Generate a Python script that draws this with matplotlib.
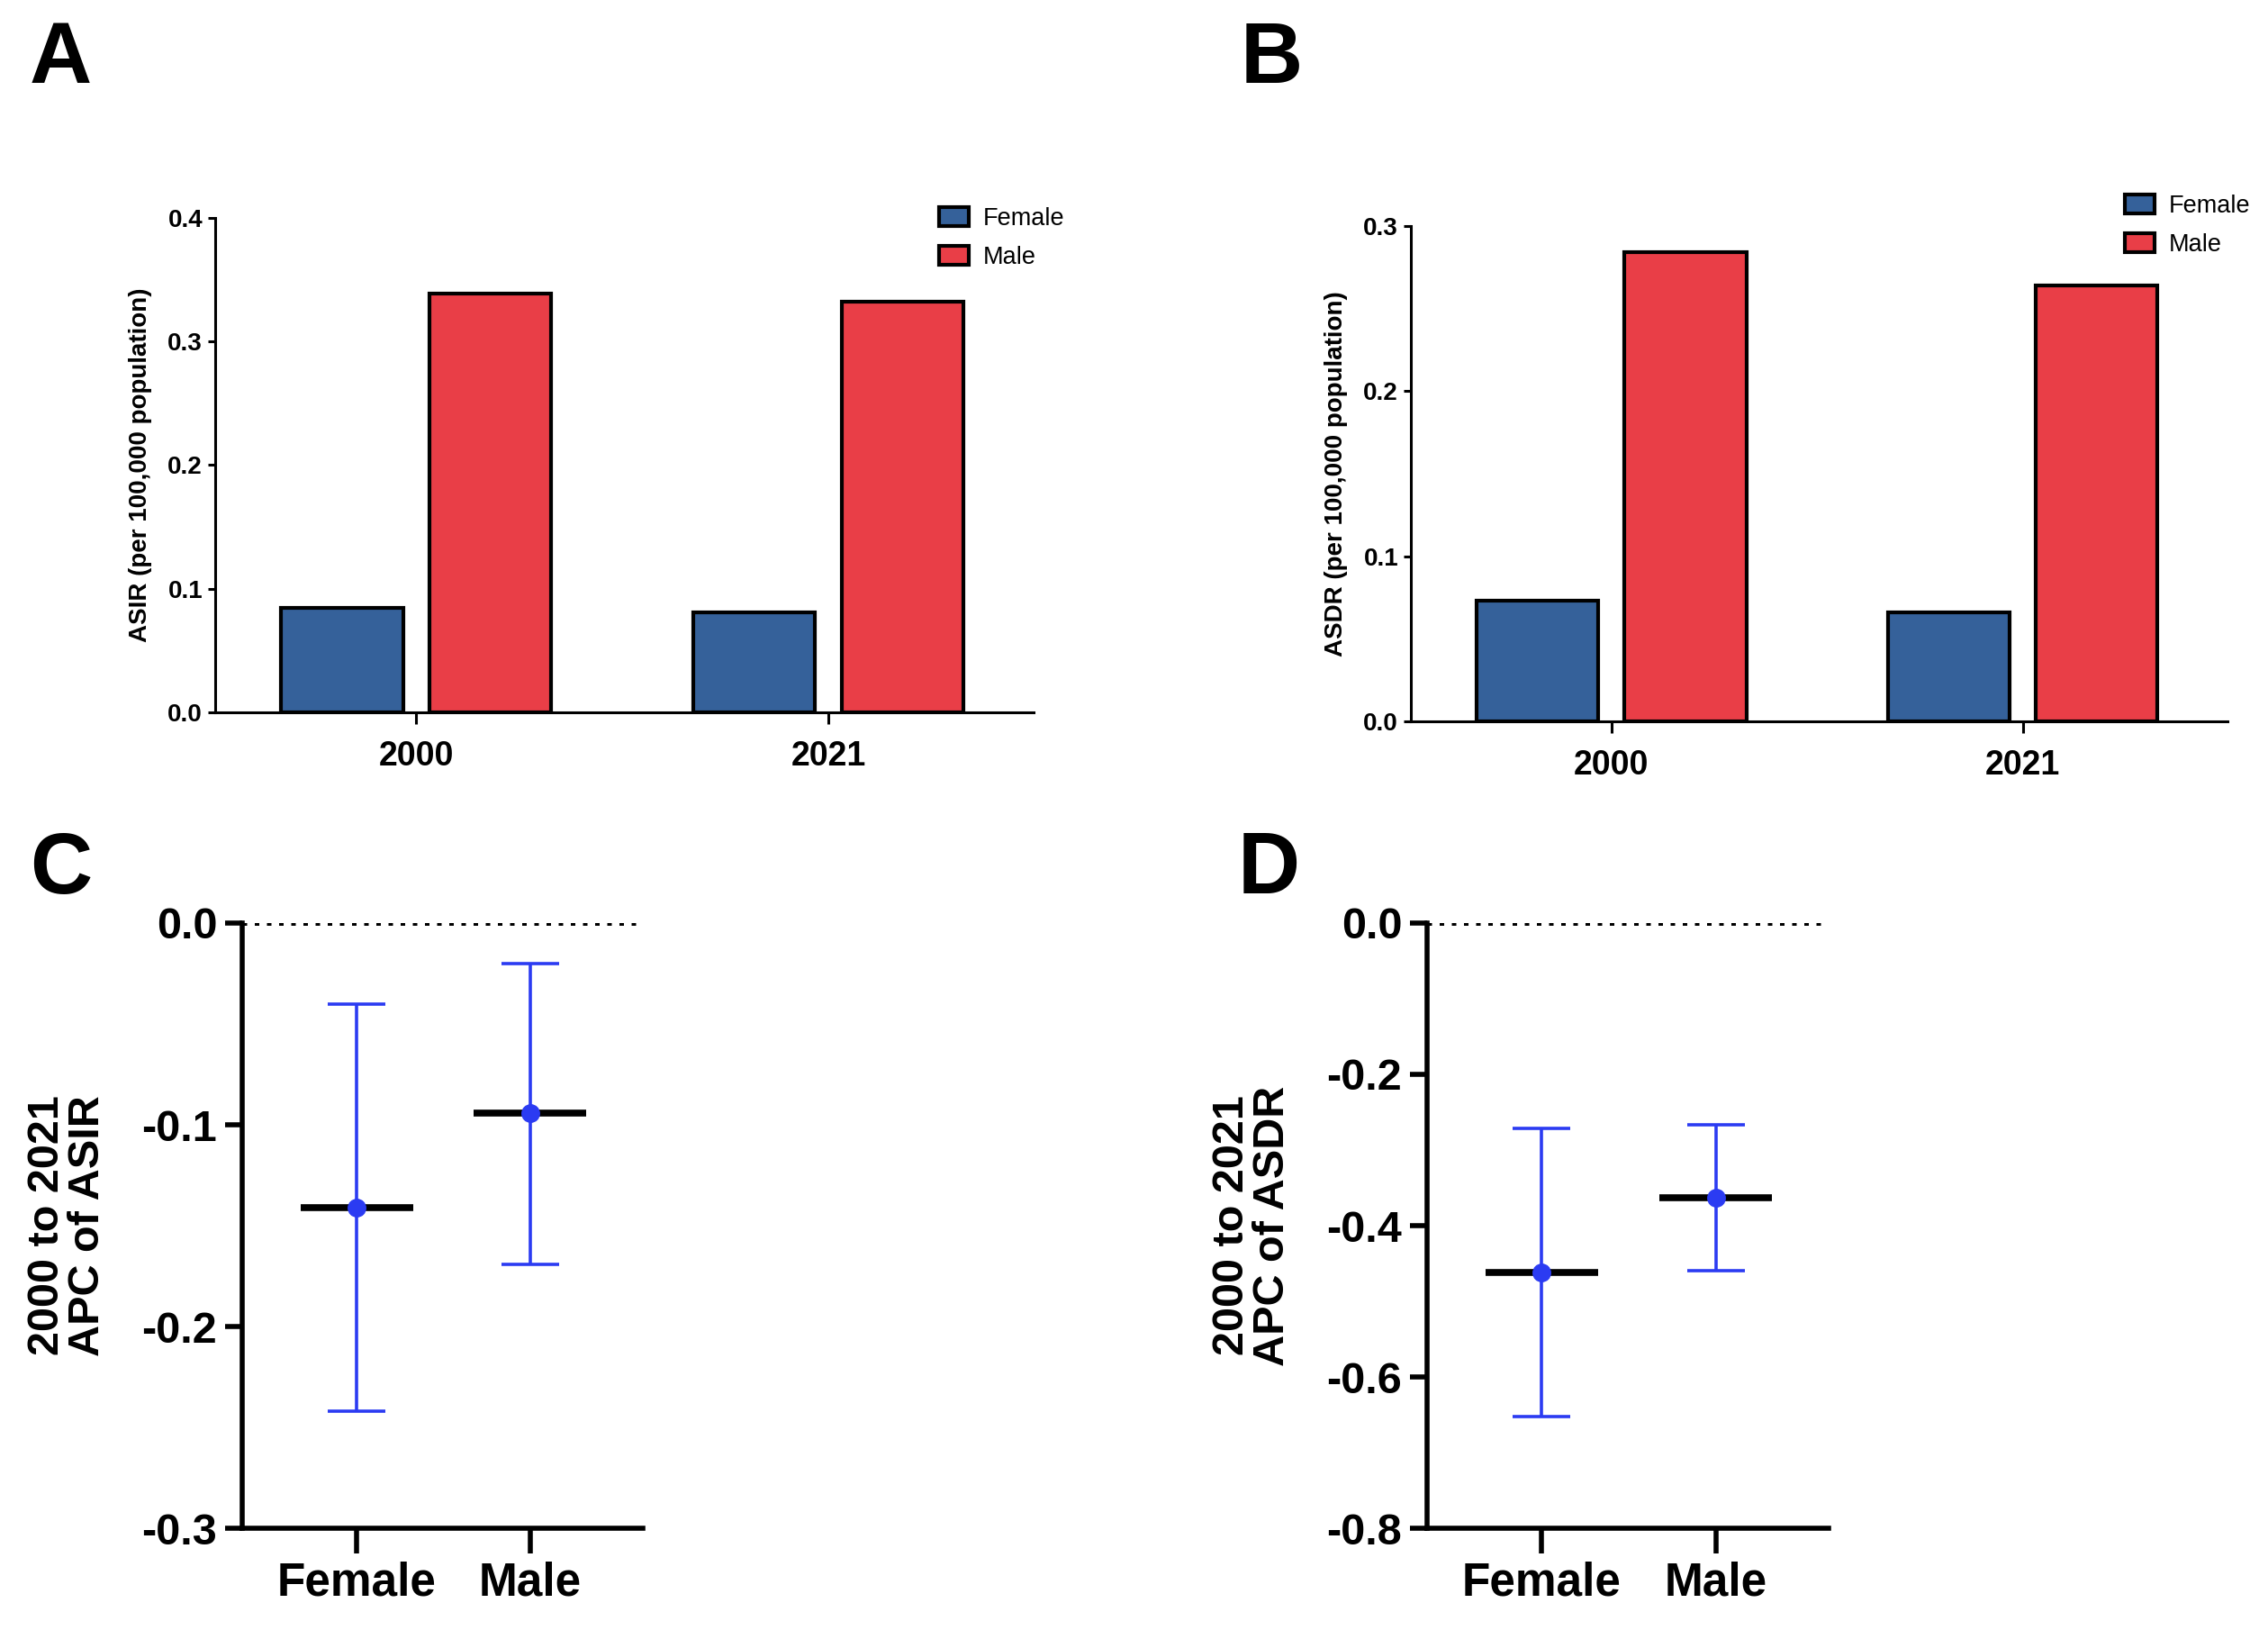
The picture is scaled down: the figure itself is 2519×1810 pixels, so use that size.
import matplotlib
matplotlib.use("Agg")
import matplotlib.pyplot as plt
import numpy as np

plt.rcParams['font.family'] = ['Liberation Sans', 'DejaVu Sans']

# Panels A/B: age-standardised rates
years = ['2000', '2021']
sexes = ['Female', 'Male']
asir_female = [0.0845, 0.081]
asir_male = [0.339, 0.332]
asdr_female = [0.073, 0.066]
asdr_male = [0.284, 0.264]

# Panels C/D: APC with 95% CI
apc_asir = [-0.141, -0.094]
apc_asir_lo = [-0.242, -0.169]
apc_asir_hi = [-0.040, -0.020]
apc_asdr = [-0.462, -0.363]
apc_asdr_lo = [-0.652, -0.459]
apc_asdr_hi = [-0.271, -0.267]

blue = '#35619A'
red = '#E93E47'
dot_blue = '#2B3BF2'

W, H = 2519, 1810
fig = plt.figure(figsize=(W / 100, H / 100), dpi=100)


def ax_px(left, top, right, bottom):
    return fig.add_axes([left / W, 1 - bottom / H, (right - left) / W, (bottom - top) / H])


def bar_panel(ax, fem, mal, ylim, yticks, ylabel, leg_xy):
    x = np.arange(len(years))
    w = 0.296
    ax.bar(x - 0.18, fem, w, color=blue, edgecolor='black', linewidth=3, label='Female')
    ax.bar(x + 0.18, mal, w, color=red, edgecolor='black', linewidth=3, label='Male')
    ax.set_xlim(-0.488, 1.498)
    ax.set_ylim(*ylim)
    ax.set_yticks(yticks)
    ax.set_yticklabels([f'{t:.1f}' for t in yticks], fontsize=20, fontweight='bold')
    ax.set_xticks(x)
    ax.set_xticklabels(years, fontsize=27, fontweight='bold')
    ax.tick_params(axis='y', length=6, width=2.2, pad=4)
    ax.tick_params(axis='x', length=9, width=2.2, pad=13)
    for s in ['top', 'right']:
        ax.spines[s].set_visible(False)
    for s in ['left', 'bottom']:
        ax.spines[s].set_linewidth(2.2)
    ax.set_ylabel(ylabel, fontsize=20, fontweight='bold')
    ax.yaxis.set_label_coords(-0.077, 0.5)
    ax.legend(loc='upper left', bbox_to_anchor=(leg_xy[0] / W, 1 - leg_xy[1] / H),
              bbox_transform=fig.transFigure, frameon=False, fontsize=19.5,
              handlelength=1.2, handleheight=0.8, handletextpad=0.6,
              labelspacing=0.62, borderpad=0, borderaxespad=0)


def apc_panel(ax, mean, lo, hi, ylim, yticks, ylabel):
    x = np.arange(len(sexes))
    mean = np.array(mean)
    yerr = [mean - np.array(lo), np.array(hi) - mean]
    ax.axhline(0, color='black', linestyle=(0, (1, 1.7)), linewidth=3.6, zorder=1)
    ax.errorbar(x, mean, yerr=yerr, fmt='none', ecolor=dot_blue, elinewidth=2.6,
                capsize=23, capthick=2.6, zorder=2)
    ax.hlines(mean, x - 0.325, x + 0.325, color='black', linewidth=5.5, zorder=3)
    ax.plot(x, mean, 'o', color=dot_blue, markersize=14, zorder=4)
    ax.set_xlim(-0.66, 1.65)
    ax.set_ylim(*ylim)
    ax.set_yticks(yticks)
    ax.set_yticklabels([f'{t:.1f}' for t in yticks], fontsize=35, fontweight='bold')
    ax.set_xticks(x)
    ax.set_xticklabels(sexes, fontsize=37, fontweight='bold')
    ax.tick_params(axis='y', length=14, width=4, pad=6)
    ax.tick_params(axis='x', length=20, width=4, pad=6)
    for s in ['top', 'right']:
        ax.spines[s].set_visible(False)
    for s in ['left', 'bottom']:
        ax.spines[s].set_linewidth(4)
    ax.spines['left'].set_bounds(ylim[0], 0)
    ax.set_ylabel(ylabel, fontsize=35, fontweight='bold', linespacing=1.0)
    ax.yaxis.set_label_coords(-0.335, 0.5)


axA = ax_px(239, 242, 1148, 791)
bar_panel(axA, asir_female, asir_male, (0, 0.4), [0.0, 0.1, 0.2, 0.3, 0.4],
          'ASIR (per 100,000 population)', (1043, 230))

axB = ax_px(1567, 251, 2474, 801)
bar_panel(axB, asdr_female, asdr_male, (0, 0.3), [0.0, 0.1, 0.2, 0.3],
          'ASDR (per 100,000 population)', (2360, 216))

axC = ax_px(269, 1025, 714, 1697)
apc_panel(axC, apc_asir, apc_asir_lo, apc_asir_hi, (-0.3, 0.0),
          [0.0, -0.1, -0.2, -0.3], '2000 to 2021\nAPC of ASIR')

axD = ax_px(1585, 1025, 2031, 1697)
apc_panel(axD, apc_asdr, apc_asdr_lo, apc_asdr_hi, (-0.8, 0.0),
          [0.0, -0.2, -0.4, -0.6, -0.8], '2000 to 2021\nAPC of ASDR')

for lab, (px, py) in zip('ABCD', [(33, 22), (1378, 22), (33, 922), (1375, 922)]):
    fig.text(px / W, 1 - py / H, lab, fontsize=69, fontweight='bold', va='top', ha='left')

fig.savefig('out.png', dpi=100)
